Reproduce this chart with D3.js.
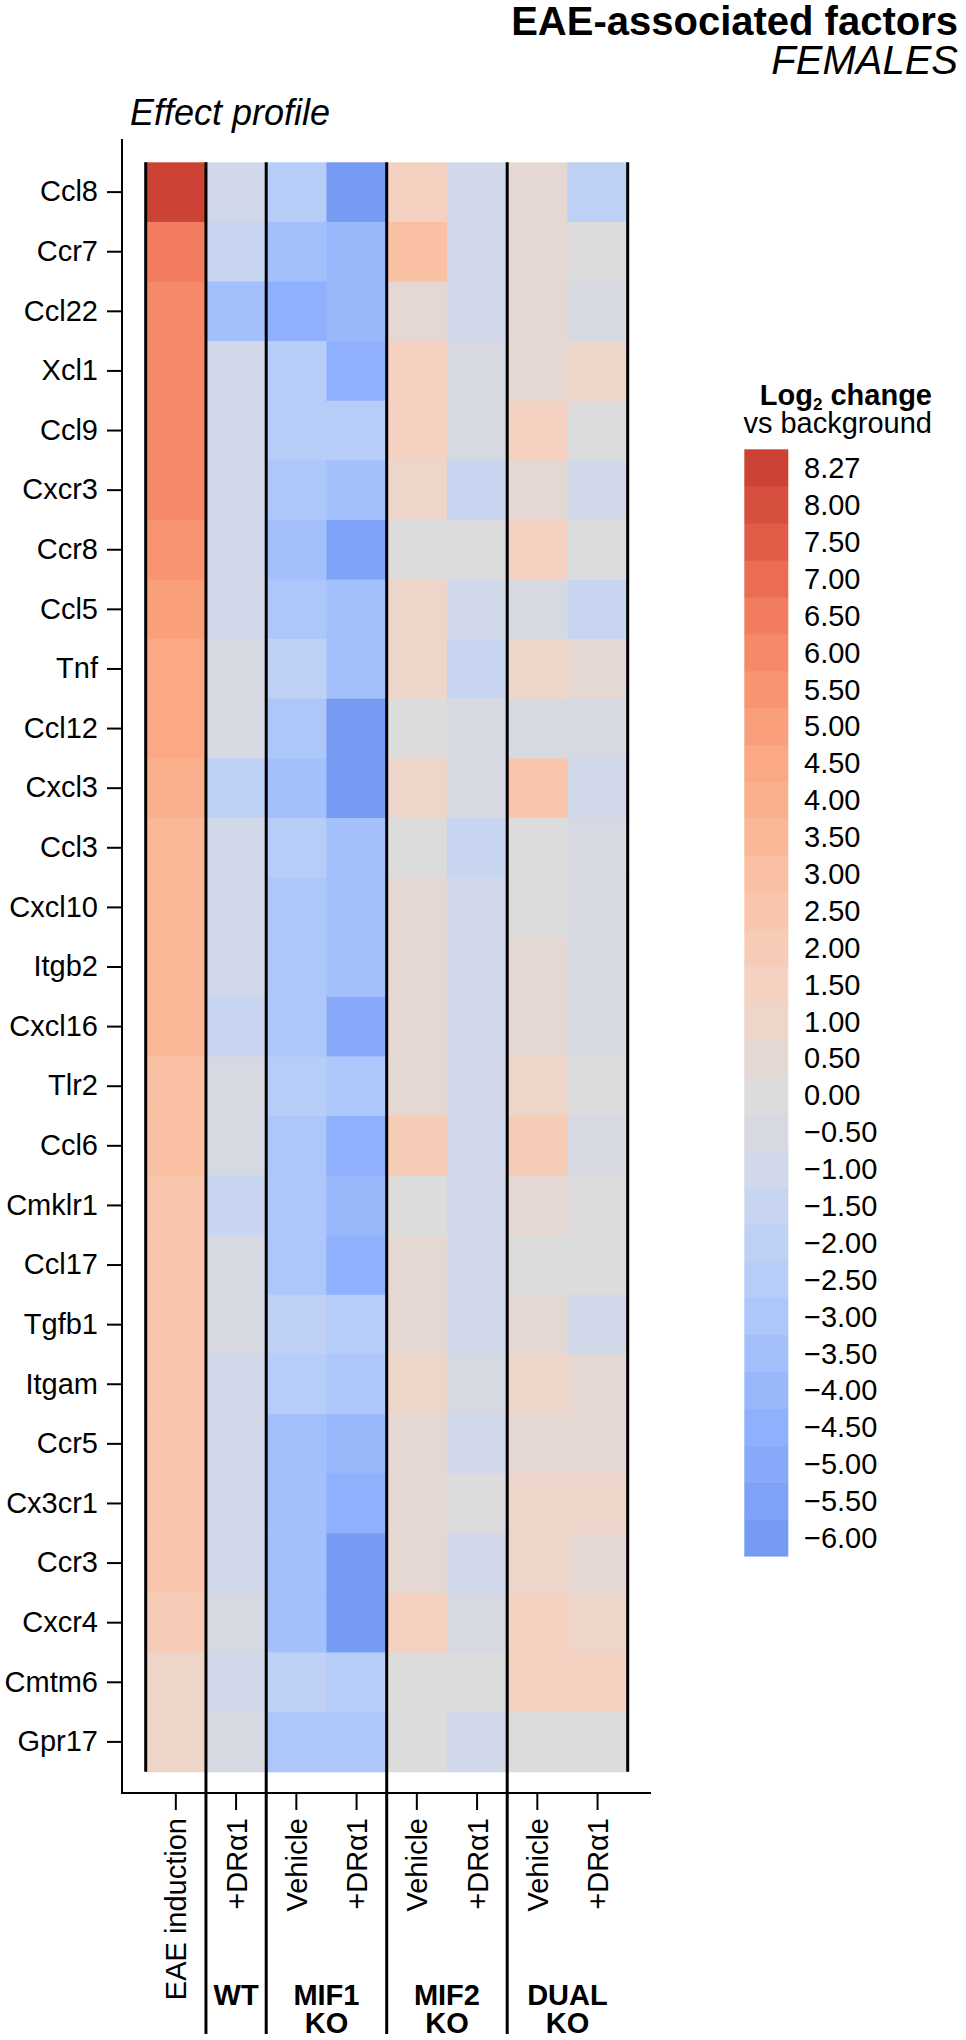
<!DOCTYPE html>
<html><head><meta charset="utf-8">
<script src="https://cdn.jsdelivr.net/npm/d3@7"></script>
<style>
body{margin:0;background:#fff}
svg{display:block;background:#fff}
text{font-family:"Liberation Sans",Arial,Helvetica,sans-serif;fill:#000}
</style>
</head><body>
<svg id="chart" width="966" height="2040"></svg>
<script>
// ---------------- DATA ----------------
const genes = ["Ccl8","Ccr7","Ccl22","Xcl1","Ccl9","Cxcr3","Ccr8","Ccl5","Tnf","Ccl12","Cxcl3","Ccl3","Cxcl10","Itgb2","Cxcl16","Tlr2","Ccl6","Cmklr1","Ccl17","Tgfb1","Itgam","Ccr5","Cx3cr1","Ccr3","Cxcr4","Cmtm6","Gpr17"];
const conditions = ["EAE induction","WT +DRα1","MIF1 KO Vehicle","MIF1 KO +DRα1","MIF2 KO Vehicle","MIF2 KO +DRα1","DUAL KO Vehicle","DUAL KO +DRα1"];
const conditionLabels = ["EAE induction","+DRα1","Vehicle","+DRα1","Vehicle","+DRα1","Vehicle","+DRα1"];

const eaeInduction = [8.27,6.5,6.0,6.0,6.0,6.0,5.5,5.0,4.5,4.5,4.0,3.5,3.5,3.5,3.5,3.0,3.0,2.5,2.5,2.5,2.5,2.5,2.5,2.5,2.0,1.0,1.0];
const wtDra1       = [-1.0,-1.5,-3.5,-1.0,-1.0,-1.0,-1.0,-1.0,-0.5,-0.5,-2.0,-1.0,-1.0,-1.0,-1.5,-0.5,-0.5,-1.5,-0.5,-0.5,-1.0,-1.0,-1.0,-1.0,-0.5,-1.0,-0.5];
const mif1Vehicle  = [-2.5,-3.5,-4.5,-2.5,-2.5,-3.0,-3.5,-3.0,-2.0,-3.0,-3.5,-2.5,-3.0,-3.0,-3.0,-2.5,-3.0,-3.0,-3.0,-2.0,-2.5,-3.5,-3.5,-3.5,-3.5,-2.0,-3.0];
const mif1Dra1     = [-6.0,-4.0,-4.0,-4.5,-2.5,-3.5,-5.5,-3.5,-3.5,-6.0,-6.0,-3.5,-3.5,-3.5,-5.0,-3.0,-4.5,-4.0,-4.5,-2.5,-3.0,-4.0,-4.5,-6.0,-6.0,-2.5,-3.0];
const mif2Vehicle  = [1.5,3.0,0.5,1.5,1.5,1.0,0.0,1.0,1.0,0.0,1.0,0.0,0.5,0.5,0.5,0.5,2.0,0.0,0.5,0.5,1.0,0.5,0.5,0.5,1.5,0.0,0.0];
const mif2Dra1     = [-1.0,-1.0,-1.0,-0.5,-0.5,-1.5,0.0,-1.0,-1.5,-0.5,-0.5,-1.5,-1.0,-1.0,-1.0,-1.0,-1.0,-1.0,-1.0,-1.0,-0.5,-1.0,0.0,-1.0,-0.5,0.0,-1.0];
const dualVehicle  = [0.5,0.5,0.5,0.5,1.5,0.5,1.5,-0.5,1.0,-0.5,2.5,0.0,0.0,0.5,0.5,1.0,2.0,0.5,0.0,0.5,1.0,0.5,1.0,1.0,1.5,1.5,0.0];
const dualDra1     = [-2.0,0.0,-0.5,1.0,0.0,-1.0,0.0,-1.5,0.5,-0.5,-1.0,-0.5,-0.5,-0.5,-0.5,0.0,-0.5,0.0,0.0,-1.0,0.5,0.5,1.0,0.5,1.0,1.5,0.0];
const seriesValues = [eaeInduction,wtDra1,mif1Vehicle,mif1Dra1,mif2Vehicle,mif2Dra1,dualVehicle,dualDra1];

const groupNames = [["WT"],["MIF1","KO"],["MIF2","KO"],["DUAL","KO"]];
const groupColumns = [[1],[2,3],[4,5],[6,7]];

const legendTicks = [-6.00,-5.50,-5.00,-4.50,-4.00,-3.50,-3.00,-2.50,-2.00,-1.50,-1.00,-0.50,0.00,0.50,1.00,1.50,2.00,2.50,3.00,3.50,4.00,4.50,5.00,5.50,6.00,6.50,7.00,7.50,8.00,8.27];
const palette = ["#769BF3","#7EA2F7","#86A9FA","#8FB0FC","#99B8FC","#A3C0FC","#ADC7FA","#B6CDF8","#BED1F5","#C7D5F0","#D0D8EA","#D6D9E2",
  "#DCDCDC","#E5D8D2","#EED5C9","#F4D1C1","#F7CCB7","#F9C6AD","#FAC0A3","#FBB898","#FBB08D","#FBA884","#FA9F7B","#F99471","#F68A68","#F17C5E","#EA6C53","#E15D48","#D74F3F","#CC4336"];

// ---------------- LAYOUT ----------------
const svg = d3.select("#chart");
const heat = {x0:145.7, x1:627.7, y0:162.3, y1:1771.7};
const axisX = 122, axisTop = 139, axisY = 1793, axisRight = 651;

const x = d3.scaleBand().domain(conditions).range([heat.x0, heat.x1]);
const y = d3.scaleBand().domain(genes).range([heat.y0, heat.y1]);
const mids = legendTicks.slice(1).map((t,i)=>(t+legendTicks[i])/2);
const color = d3.scaleThreshold().domain(mids).range(palette);

// cells
const cells = [];
conditions.forEach((c,ci)=>genes.forEach((g,gi)=>cells.push({c,g,v:seriesValues[ci][gi]})));
svg.append("g").selectAll("rect").data(cells).join("rect")
  .attr("x",d=>x(d.c)).attr("y",d=>y(d.g))
  .attr("width",x.bandwidth()+0.6).attr("height",y.bandwidth()+0.6)
  .attr("fill",d=>color(d.v));

// y axis
const yAxis = svg.append("g").attr("transform",`translate(${axisX},0)`)
  .call(d3.axisLeft(y).tickSize(15).tickPadding(9).tickSizeOuter(0));
yAxis.select(".domain").remove();
yAxis.selectAll(".tick line").attr("stroke","#000").attr("stroke-width",2);
yAxis.selectAll(".tick text").attr("font-size",29).attr("fill","#000")
  .style("font-family","'Liberation Sans',Arial,sans-serif");
svg.append("line").attr("x1",axisX).attr("x2",axisX).attr("y1",axisTop).attr("y2",axisY+1)
  .attr("stroke","#000").attr("stroke-width",2);

// x axis
const xAxis = svg.append("g").attr("transform",`translate(0,${axisY})`)
  .call(d3.axisBottom(x).tickSize(17).tickFormat("").tickSizeOuter(0));
xAxis.select(".domain").remove();
xAxis.selectAll(".tick line").attr("stroke","#000").attr("stroke-width",2);
svg.append("line").attr("x1",axisX-1).attr("x2",axisRight).attr("y1",axisY).attr("y2",axisY)
  .attr("stroke","#000").attr("stroke-width",2);

svg.append("g").selectAll("text").data(conditions).join("text")
  .attr("transform",d=>`translate(${x(d)+x.bandwidth()/2},1818) rotate(-90)`)
  .attr("text-anchor","end").attr("dy","0.36em").attr("font-size",29)
  .text((d,i)=>conditionLabels[i]);

// separators
const sepXs = groupColumns.map(cols=>x(conditions[cols[0]]));
svg.append("g").selectAll("line").data(sepXs).join("line")
  .attr("x1",d=>d).attr("x2",d=>d).attr("y1",heat.y0).attr("y2",2034)
  .attr("stroke","#000").attr("stroke-width",3);
svg.append("g").selectAll("line").data([heat.x0, heat.x1]).join("line")
  .attr("x1",d=>d).attr("x2",d=>d).attr("y1",heat.y0).attr("y2",heat.y1)
  .attr("stroke","#000").attr("stroke-width",3);

// group labels
const gl = svg.append("g").selectAll("text").data(groupNames).join("text")
  .attr("text-anchor","middle").attr("font-size",29).attr("font-weight","bold")
  .attr("x",(d,i)=>d3.mean(groupColumns[i],c=>x(conditions[c])+x.bandwidth()/2));
gl.each(function(d,i){
  const t = d3.select(this);
  const cx = t.attr("x");
  d.forEach((line,li)=>t.append("tspan").attr("x",cx).attr("y",2005+li*28).text(line));
});

// titles
svg.append("text").attr("x",958).attr("y",35).attr("text-anchor","end")
  .attr("font-size",40).attr("font-weight","bold").text("EAE-associated factors");
svg.append("text").attr("x",958).attr("y",74).attr("text-anchor","end")
  .attr("font-size",40).attr("font-style","italic").text("FEMALES");
svg.append("text").attr("x",130).attr("y",125)
  .attr("font-size",36).attr("font-style","italic").text("Effect profile");

// legend
const lt = svg.append("text").attr("x",932).attr("y",405).attr("text-anchor","end")
  .attr("font-size",29).attr("font-weight","bold");
lt.append("tspan").text("Log");
lt.append("tspan").attr("font-size",17).attr("dy",5).text("2");
lt.append("tspan").attr("dy",-5).text(" change");
svg.append("text").attr("x",932).attr("y",433).attr("text-anchor","end")
  .attr("font-size",29).text("vs background");

const ly = d3.scaleBand().domain(legendTicks.slice().reverse()).range([449.3,1556]);
const lg = svg.append("g");
lg.selectAll("rect").data(legendTicks).join("rect")
  .attr("x",744.3).attr("width",44).attr("y",d=>ly(d)).attr("height",ly.bandwidth()+0.6)
  .attr("fill",d=>color(d));
lg.selectAll("text").data(legendTicks).join("text")
  .attr("x",804).attr("y",d=>ly(d)+ly.bandwidth()/2).attr("dy","0.36em")
  .attr("font-size",29).text(d=>d3.format(".2f")(d));
</script>
</body></html>
